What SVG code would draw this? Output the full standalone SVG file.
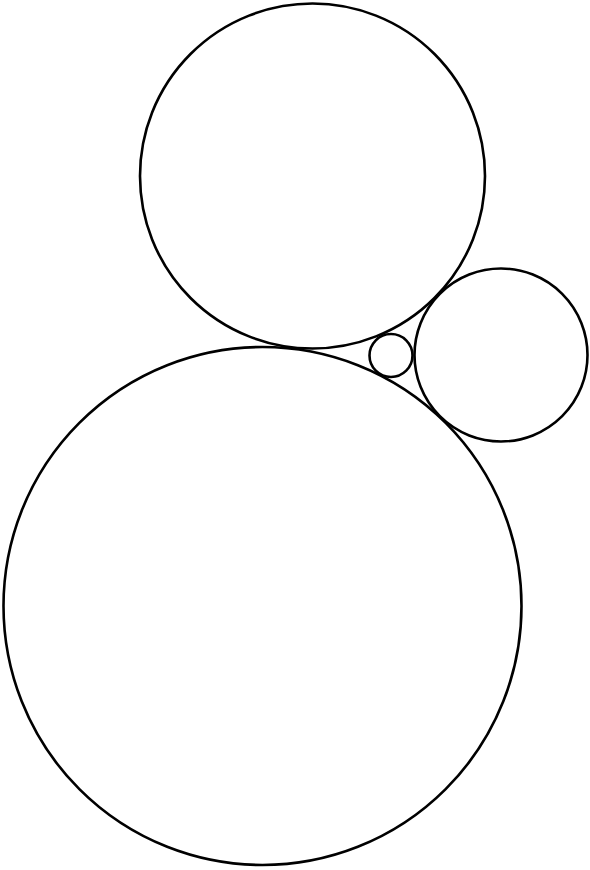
<svg xmlns="http://www.w3.org/2000/svg" width="590" height="870" viewBox="0 0 590 870">
<style>.c{fill:none;stroke:#000;stroke-width:2.6}</style>
<rect width="590" height="870" fill="#fff"/>
<g id="big"><circle class="c" cx="262.5" cy="606" r="259"/></g>
<g id="top"><circle class="c" cx="312.5" cy="176" r="172.5"/></g>
<g id="right"><circle class="c" cx="501" cy="355" r="86.5"/></g>
<g id="small"><circle class="c" cx="391" cy="355.5" r="21.5"/></g>
<g id="connectors"/>
</svg>
